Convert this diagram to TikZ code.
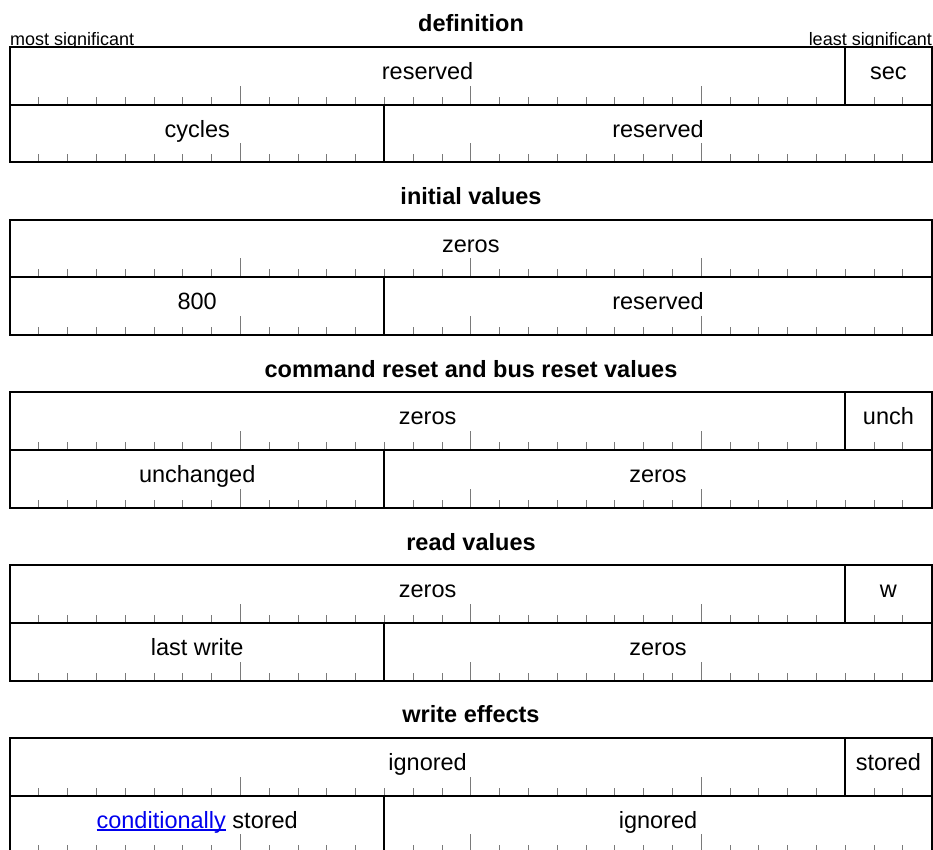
\documentclass[tikz,border=0pt]{standalone}
\usepackage{fontspec}
\setmainfont{Liberation Sans}
\definecolor{tickgray}{HTML}{7A7A7A}
\definecolor{linkblue}{HTML}{0000EE}
\tikzset{
  boxline/.style={line width=2pt, black},
  tickline/.style={line width=1pt, tickgray},
  lbl/.style={anchor=base, inner sep=0pt, font=\fontsize{23.5}{27}\selectfont},
  ttl/.style={anchor=base, inner sep=0pt, font=\fontsize{23.5}{27}\selectfont\bfseries},
  sig/.style={inner sep=0pt, font=\fontsize{18}{21}\selectfont},
}
\newcommand\myul[1]{\setbox0\hbox{#1}\rlap{\rule[-2.6pt]{\wd0}{1.3pt}}\box0}
% #1 top y
\newcommand\regframe[1]{%
  \fill[white] (10,#1) rectangle (932,#1+115.4);
  \foreach \r in {1,2}{
    \foreach \i in {1,...,31}{
      \pgfmathsetmacro\tl{ifthenelse(mod(\i,8)==0,19,8)}
      \draw[tickline] ({10+28.8*\i},{#1+57.7*\r}) -- ++(0,-\tl);
    }
  }
  \draw[boxline] (10,#1) rectangle (932,#1+115.4);
  \draw[boxline] (10,#1+57.7) -- (932,#1+57.7);
}
% #1 top y of row, #2 bit
\newcommand\regdiv[2]{\draw[boxline] ({10+28.8*#2},#1) -- ++(0,57.7);}
% #1 row top, #2 start bit, #3 end bit, #4 name, #5 text
\newcommand\reglbl[5]{\node[lbl] (#4) at ({10+28.8*(#2+#3)/2},#1+32.5) {#5};}
\begin{document}
\begin{tikzpicture}[x=1pt,y=-1pt]
\path[use as bounding box, clip] (0,0) rectangle (933,850);
\fill[white] (0,0) rectangle (933,850);

% ---- definition
\node[ttl] (t1) at (471,32) {definition};
\node[sig, anchor=base west] (msb) at (10,46) {most significant};
\node[sig, anchor=base east] (lsb) at (932,46) {least significant};
\regframe{47}
\regdiv{47}{29}
\regdiv{104.7}{13}
\reglbl{47}{0}{29}{d1a}{reserved}
\reglbl{47}{29}{32}{d1b}{sec}
\reglbl{104.7}{0}{13}{d2a}{cycles}
\reglbl{104.7}{13}{32}{d2b}{reserved}

% ---- initial values
\node[ttl] (t2) at (471,204.7) {initial values};
\regframe{219.7}
\regdiv{277.4}{13}
\reglbl{219.7}{0}{32}{i1a}{zeros}
\reglbl{277.4}{0}{13}{i2a}{800}
\reglbl{277.4}{13}{32}{i2b}{reserved}

% ---- command reset and bus reset values
\node[ttl] (t3) at (471,377.4) {command reset and bus reset values};
\regframe{392.4}
\regdiv{392.4}{29}
\regdiv{450.1}{13}
\reglbl{392.4}{0}{29}{c1a}{zeros}
\reglbl{392.4}{29}{32}{c1b}{unch}
\reglbl{450.1}{0}{13}{c2a}{unchanged}
\reglbl{450.1}{13}{32}{c2b}{zeros}

% ---- read values
\node[ttl] (t4) at (471,550.1) {read values};
\regframe{565.1}
\regdiv{565.1}{29}
\regdiv{622.8}{13}
\reglbl{565.1}{0}{29}{r1a}{zeros}
\reglbl{565.1}{29}{32}{r1b}{w}
\reglbl{622.8}{0}{13}{r2a}{last write}
\reglbl{622.8}{13}{32}{r2b}{zeros}

% ---- write effects
\node[ttl] (t5) at (471,722.8) {write effects};
\regframe{737.8}
\regdiv{737.8}{29}
\regdiv{795.5}{13}
\reglbl{737.8}{0}{29}{w1a}{ignored}
\reglbl{737.8}{29}{32}{w1b}{stored}
\reglbl{795.5}{0}{13}{w2a}{{\color{linkblue}\myul{conditionally}} stored}
\reglbl{795.5}{13}{32}{w2b}{ignored}
\end{tikzpicture}
\end{document}
